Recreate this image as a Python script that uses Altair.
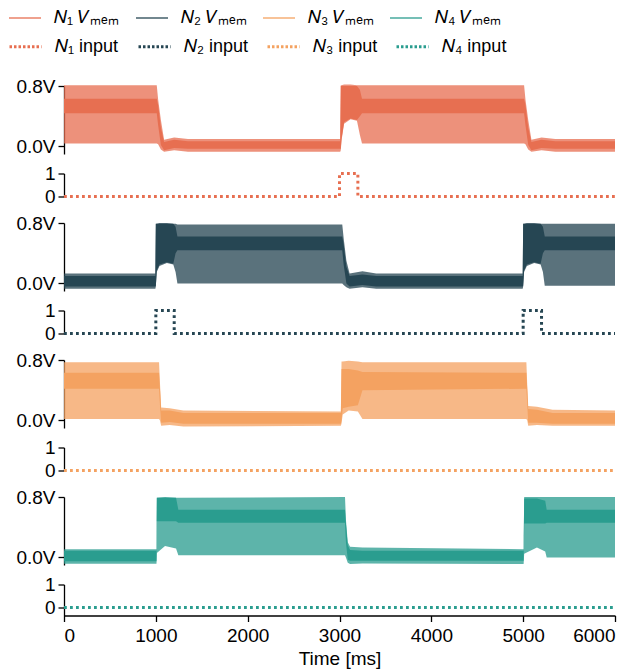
import altair as alt
import pandas as pd

# ---------------- data ----------------
COLORS = ["#e76f51", "#264653", "#f4a261", "#2a9d8f"]
VMEM_NAMES = ["𝑁₁ 𝑉ₘₑₘ", "𝑁₂ 𝑉ₘₑₘ", "𝑁₃ 𝑉ₘₑₘ", "𝑁₄ 𝑉ₘₑₘ"]
INPUT_NAMES = ["𝑁₁ input", "𝑁₂ input", "𝑁₃ input", "𝑁₄ input"]
X_TICKS = [0, 1000, 2000, 3000, 4000, 5000, 6000]

# membrane-potential envelopes (V): spike trough..peak (outer) and dense core band
N1_T = [0, 1010, 1025, 1055, 1090, 1200, 1350, 3008, 3014, 3022, 3050, 3120, 3190, 3222, 3245, 5010, 5025, 5055, 5090, 5200, 5350, 6000]
N1_OUT_LO = [0.04, 0.04, 0.03, -0.04, -0.07, -0.05, -0.07, -0.07, -0.05, 0.08, 0.30, 0.36, 0.34, 0.15, 0.04, 0.04, 0.03, -0.04, -0.07, -0.05, -0.07, -0.07]
N1_OUT_HI = [0.81, 0.81, 0.62, 0.35, 0.09, 0.12, 0.10, 0.10, 0.81, 0.81, 0.82, 0.82, 0.81, 0.81, 0.81, 0.81, 0.62, 0.35, 0.09, 0.12, 0.10, 0.10]
N1_CORE_LO = [0.44, 0.44, 0.28, 0.02, -0.05, -0.02, -0.03, -0.03, -0.03, 0.10, 0.32, 0.37, 0.35, 0.40, 0.44, 0.44, 0.28, 0.02, -0.05, -0.02, -0.03, -0.03]
N1_CORE_HI = [0.63, 0.63, 0.55, 0.25, 0.06, 0.09, 0.07, 0.07, 0.80, 0.80, 0.80, 0.80, 0.80, 0.75, 0.63, 0.63, 0.55, 0.25, 0.06, 0.09, 0.07, 0.07]

N2_T = [0, 995, 1000, 1010, 1040, 1120, 1190, 1215, 1235, 3030, 3045, 3075, 3110, 3250, 3400, 4995, 5000, 5010, 5040, 5120, 5190, 5215, 5235, 6000]
N2_OUT_LO = [-0.07, -0.07, -0.04, 0.15, 0.23, 0.27, 0.25, 0.15, 0.00, 0.00, -0.02, -0.05, -0.07, -0.05, -0.07, -0.07, -0.04, 0.15, 0.23, 0.27, 0.25, 0.15, -0.03, -0.03]
N2_OUT_HI = [0.13, 0.13, 0.79, 0.79, 0.80, 0.80, 0.79, 0.79, 0.78, 0.78, 0.60, 0.30, 0.13, 0.16, 0.13, 0.13, 0.79, 0.79, 0.80, 0.80, 0.79, 0.79, 0.79, 0.79]
N2_CORE_LO = [-0.04, -0.04, -0.03, 0.17, 0.25, 0.28, 0.26, 0.40, 0.44, 0.44, 0.25, 0.00, -0.04, -0.02, -0.04, -0.04, -0.03, 0.17, 0.25, 0.28, 0.26, 0.40, 0.44, 0.44]
N2_CORE_HI = [0.10, 0.10, 0.79, 0.79, 0.79, 0.79, 0.79, 0.75, 0.62, 0.62, 0.52, 0.22, 0.10, 0.12, 0.10, 0.10, 0.79, 0.79, 0.79, 0.79, 0.79, 0.75, 0.62, 0.62]

N3_T = [0, 1035, 1045, 1058, 1150, 1300, 3015, 3022, 3035, 3100, 3200, 3250, 5035, 5045, 5055, 5150, 5320, 6000]
N3_OUT_LO = [0.02, 0.02, 0.00, -0.07, -0.06, -0.08, -0.07, -0.04, 0.08, 0.13, 0.12, 0.02, 0.02, 0.00, -0.07, -0.06, -0.07, -0.07]
N3_OUT_HI = [0.77, 0.77, 0.50, 0.17, 0.16, 0.13, 0.12, 0.78, 0.78, 0.79, 0.78, 0.77, 0.77, 0.45, 0.19, 0.18, 0.14, 0.13]
N3_CORE_LO = [0.42, 0.42, 0.20, -0.03, -0.02, -0.045, -0.045, 0.00, 0.16, 0.18, 0.20, 0.40, 0.42, 0.20, -0.03, -0.03, -0.045, -0.045]
N3_CORE_HI = [0.63, 0.63, 0.42, 0.13, 0.13, 0.10, 0.10, 0.68, 0.68, 0.68, 0.66, 0.64, 0.63, 0.40, 0.15, 0.14, 0.10, 0.10]

N4_T = [0, 1007, 1011, 1100, 1220, 1245, 3060, 3070, 3090, 3115, 3250, 5005, 5011, 5150, 5240, 5256, 6000]
N4_OUT_LO = [-0.085, -0.085, 0.06, 0.15, 0.12, 0.03, 0.03, 0.00, -0.07, -0.088, -0.08, -0.088, 0.05, 0.13, 0.08, 0.00, 0.00]
N4_OUT_HI = [0.11, 0.11, 0.79, 0.80, 0.79, 0.79, 0.80, 0.50, 0.20, 0.14, 0.13, 0.11, 0.80, 0.80, 0.80, 0.80, 0.80]
N4_CORE_LO = [-0.05, -0.05, 0.48, 0.48, 0.48, 0.46, 0.46, 0.20, -0.03, -0.044, -0.044, -0.044, 0.45, 0.45, 0.45, 0.46, 0.46]
N4_CORE_HI = [0.09, 0.09, 0.79, 0.79, 0.79, 0.63, 0.63, 0.45, 0.16, 0.10, 0.09, 0.09, 0.78, 0.78, 0.75, 0.63, 0.63]

# input pulses (step after)
IN_T = [0, 1000, 1200, 3000, 3200, 5000, 5200, 6000]
N1_IN = [0, 0, 0, 1, 0, 0, 0, 0]
N2_IN = [0, 1, 0, 0, 0, 1, 0, 0]
N3_IN = [0, 0, 0, 0, 0, 0, 0, 0]
N4_IN = [0, 0, 0, 0, 0, 0, 0, 0]

ENVELOPES = [
    (N1_T, N1_OUT_LO, N1_OUT_HI, N1_CORE_LO, N1_CORE_HI),
    (N2_T, N2_OUT_LO, N2_OUT_HI, N2_CORE_LO, N2_CORE_HI),
    (N3_T, N3_OUT_LO, N3_OUT_HI, N3_CORE_LO, N3_CORE_HI),
    (N4_T, N4_OUT_LO, N4_OUT_HI, N4_CORE_LO, N4_CORE_HI),
]
INPUTS = [N1_IN, N2_IN, N3_IN, N4_IN]

# ---------------- chart ----------------
FONT = "Liberation Sans"
W = 551
VM_H = 68
IN_H = 23

xscale = alt.Scale(domain=[0, 6000], nice=False, zero=False)
vscale = alt.Scale(domain=VMEM_NAMES, range=COLORS)
iscale = alt.Scale(domain=INPUT_NAMES, range=COLORS)

common_legend = dict(
    title=None, orient="none", columns=4, symbolType="stroke", symbolSize=1024,
    labelFont=FONT, labelFontSize=18, labelColor="#000", labelOffset=12,
    gridAlign="all", columnPadding=12, legendX=-56,
)
vmem_legend = alt.Legend(legendY=-85, symbolStrokeWidth=1.3, **common_legend)
input_legend = alt.Legend(legendY=-57, symbolStrokeWidth=3, symbolDash=[2.5, 2], **common_legend)


def vmem_panel(k):
    t, olo, ohi, clo, chi = ENVELOPES[k]
    df = pd.DataFrame({"t": t, "olo": olo, "ohi": ohi, "clo": clo, "chi": chi})
    yscale = alt.Scale(domain=[-0.1, 0.8], nice=False, zero=False)
    yaxis = alt.Axis(values=[0, 0.8], title=None,
                     labelExpr="format(datum.value, '.1f') + 'V'")
    x = alt.X("t:Q", scale=xscale, axis=None)
    base = alt.Chart(df)
    outer = base.mark_area(opacity=0.76, color=COLORS[k]).encode(
        x=x, y=alt.Y("olo:Q", scale=yscale, axis=yaxis), y2="ohi:Q")
    core = base.mark_area(color=COLORS[k]).encode(
        x=x, y=alt.Y("clo:Q", scale=yscale, axis=yaxis), y2="chi:Q")
    layers = [outer, core]
    if k == 0:
        # one point per series: draws nothing, only feeds the V_mem legend
        leg_df = pd.DataFrame({"t": [0] * 4, "v": [0.0] * 4, "lseries": VMEM_NAMES})
        dummy = alt.Chart(leg_df).mark_line(strokeWidth=1.3).encode(
            x=alt.X("t:Q", scale=xscale, axis=None),
            y=alt.Y("v:Q", scale=yscale, axis=yaxis),
            color=alt.Color("lseries:N", scale=vscale, legend=vmem_legend))
        layers.append(dummy)
    return alt.layer(*layers).properties(width=W, height=VM_H)


def input_panel(k):
    df = pd.DataFrame({"t": IN_T, "v": INPUTS[k], "iseries": INPUT_NAMES[k]})
    bottom = k == 3
    if bottom:
        xaxis = alt.Axis(values=X_TICKS, title="Time [ms]", format="d",
                         labelPadding=5, titlePadding=4)
        ydom, h = [-0.35, 1], 31
    else:
        xaxis = None
        ydom, h = [0, 1], IN_H
    return alt.Chart(df).mark_line(
        interpolate="step-after", strokeWidth=3, strokeDash=[2.8, 3.2], clip=False
    ).encode(
        x=alt.X("t:Q", scale=xscale, axis=xaxis),
        y=alt.Y("v:Q", scale=alt.Scale(domain=ydom, nice=False, zero=False),
                axis=alt.Axis(values=[0, 1], title=None, format="d")),
        stroke=alt.Stroke("iseries:N", scale=iscale, legend=input_legend),
    ).properties(width=W, height=h)


panels = []
for k in range(4):
    panels.append(vmem_panel(k))
    panels.append(input_panel(k))

chart = alt.vconcat(*panels, spacing=7.5).properties(
    padding={"left": 0, "top": -7, "right": 0, "bottom": 0}
).configure_view(stroke=None).configure_axis(
    labelFont=FONT, labelFontSize=19, titleFont=FONT, titleFontSize=19,
    titleFontWeight="normal", labelColor="#000", titleColor="#000",
    domainColor="#000", tickColor="#000", tickSize=6, domainWidth=1.3,
    tickWidth=1.3, labelPadding=3, grid=False,
)

chart.save("out.html", embed_options={"renderer": "svg", "actions": False})
